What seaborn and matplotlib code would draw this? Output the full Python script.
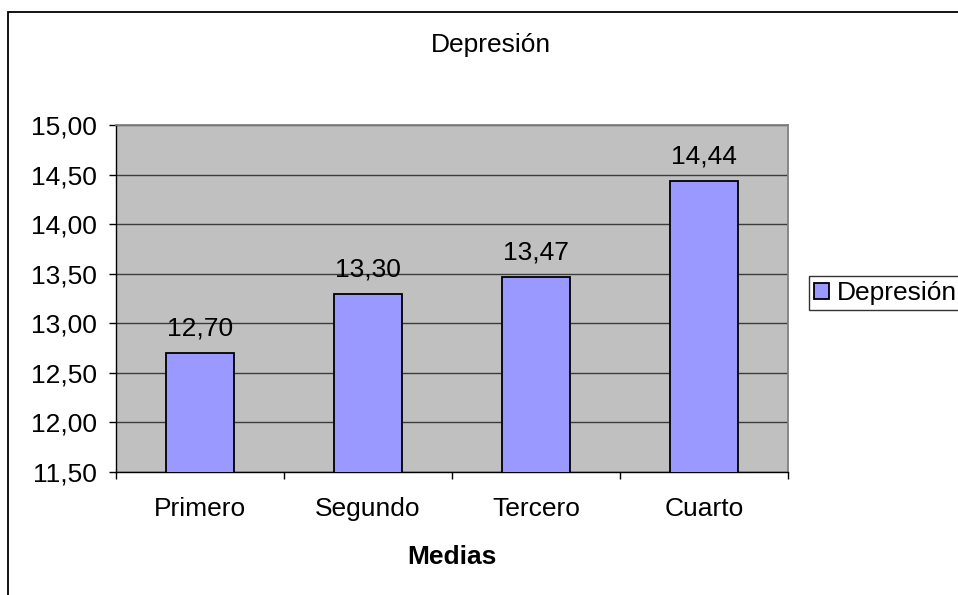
import matplotlib
matplotlib.use("Agg")
import matplotlib.pyplot as plt
import seaborn as sb
from matplotlib.patches import Rectangle
from matplotlib.ticker import FuncFormatter, FixedLocator

categorias = ["Primero", "Segundo", "Tercero", "Cuarto"]
medias = [12.70, 13.30, 13.47, 14.44]
serie = "Depresión"

sb.set_style("white")
plt.rcParams["font.family"] = ["Liberation Sans", "DejaVu Sans"]
plt.rcParams["text.color"] = "black"
plt.rcParams["xtick.color"] = "black"
plt.rcParams["ytick.color"] = "black"
plt.rcParams["axes.labelcolor"] = "black"

fs = 19

fig = plt.figure(figsize=(9.58, 5.95), dpi=100)
ax = fig.add_axes([116 / 958, 1 - 472 / 595, 672 / 958, 347 / 595])
ax.set_facecolor("#C0C0C0")

sb.barplot(x=categorias, y=medias, ax=ax, color="#9999FF", width=0.4,
           edgecolor="black", linewidth=1.3, saturation=1, label=serie, zorder=3)

ax.set_ylim(11.5, 15.0)
ax.set_xlim(-0.5, 3.5)
ax.set_yticks([11.5 + 0.5 * i for i in range(8)])
ax.yaxis.set_major_formatter(FuncFormatter(lambda v, p: f"{v:.2f}".replace(".", ",")))
ax.grid(axis="y", color="#3C3C3C", linewidth=1.0, zorder=0)
ax.set_axisbelow(True)

# ticks en los limites de las categorias
ax.xaxis.set_minor_locator(FixedLocator([-0.5, 0.5, 1.5, 2.5, 3.5]))
ax.tick_params(axis="x", which="major", length=0, pad=18, labelsize=fs)
ax.tick_params(axis="x", which="minor", length=5, width=1, direction="out", color="black", bottom=True)
ax.tick_params(axis="y", length=5, width=1, direction="out", color="black", left=True, pad=9, labelsize=fs)

for s in ["top", "right"]:
    ax.spines[s].set_color("#808080")
    ax.spines[s].set_linewidth(1.3)
for s in ["left", "bottom"]:
    ax.spines[s].set_color("black")
    ax.spines[s].set_linewidth(1.0)

ax.bar_label(ax.containers[0], labels=[f"{v:.2f}".replace(".", ",") for v in medias],
             padding=9, fontsize=fs)

ax.set_xlabel("Medias", fontsize=fs, fontweight="bold", labelpad=17)
ax.set_ylabel("")

fig.text(491 / 958, 1 - 45 / 595, "Depresión", ha="center", va="center", fontsize=fs)

leg = ax.legend(loc="center left", bbox_to_anchor=(809 / 958, 1 - 293 / 595),
                bbox_transform=fig.transFigure, fontsize=fs, frameon=True, fancybox=False,
                handlelength=0.55, handleheight=0.55, handletextpad=0.3,
                borderpad=0.2, borderaxespad=0)
leg.get_frame().set_edgecolor("black")
leg.get_frame().set_linewidth(1.0)

# borde del area del grafico
fig.patches.append(Rectangle((8 / 958, -0.1), 1.0, 1.1 - 12 / 595, transform=fig.transFigure,
                             fill=False, edgecolor="black", linewidth=1.3))

fig.savefig("out.png", dpi=100)
